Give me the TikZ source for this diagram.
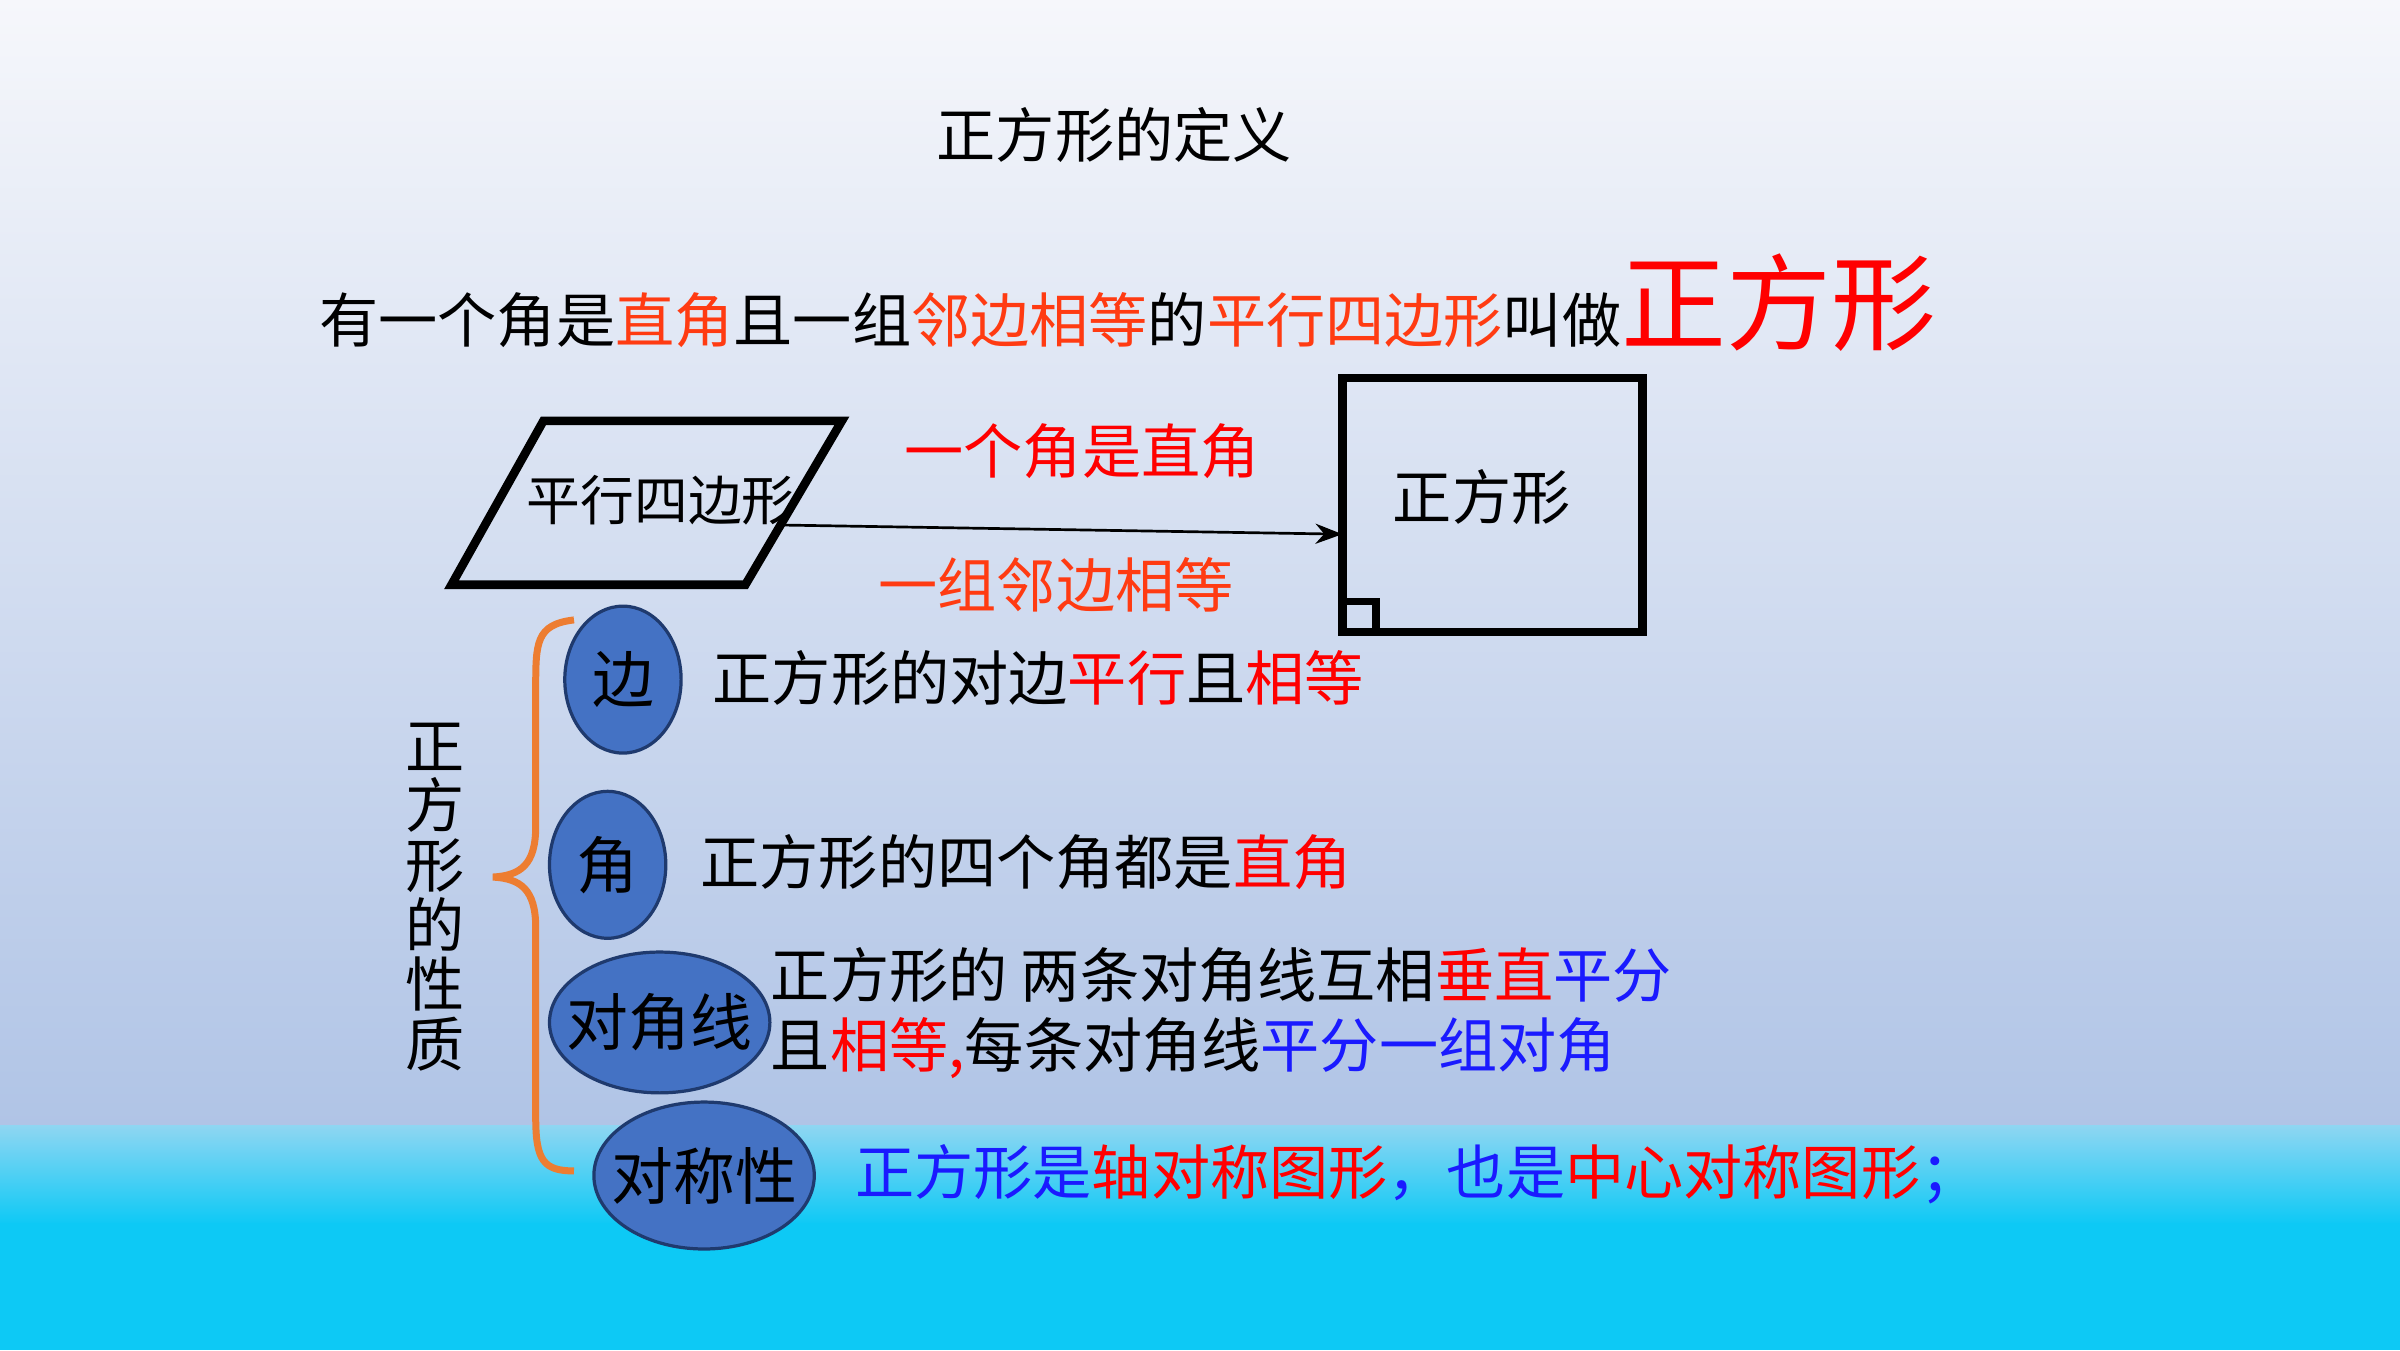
\documentclass[tikz,border=0pt]{standalone}
\usepackage{fontspec}
\setmainfont{Noto Sans CJK SC}
\usetikzlibrary{shapes.geometric,arrows.meta}
\definecolor{rd}{HTML}{FF0000}
\definecolor{orr}{HTML}{FF3B12}
\definecolor{bl}{HTML}{1A1AFF}
\definecolor{ellf}{HTML}{4472C4}
\definecolor{ellb}{HTML}{1F3A6E}
\definecolor{brc}{HTML}{ED7D31}
\definecolor{bgtop}{HTML}{F6F7FB}
\definecolor{bgmid}{HTML}{B0C4E6}
\definecolor{cyt}{HTML}{8FD6F2}
\definecolor{cyb}{HTML}{0DC9F5}
\begin{document}
\begin{tikzpicture}[x=0.1mm,y=-0.1mm,
  txt/.style={inner sep=0pt,font=\fontsize{11pt}{12pt}\selectfont},
  ellshape/.style={fill=ellf,draw=ellb,line width=0.6pt},
  ell/.style={inner sep=0pt,font=\fontsize{11.5pt}{12pt}\selectfont}]
\useasboundingbox (0,0) rectangle (1568,882);
\shade[top color=bgtop,bottom color=bgmid] (0,0) rectangle (1568,736);
\shade[top color=cyt,bottom color=cyb] (0,735) rectangle (1568,800);
\fill[cyb] (0,799) rectangle (1568,882);
\node[txt] (title) at (728,88) {正方形的定义};
\node[txt,anchor=west] (def) at (208,198) {有一个角是\textcolor{orr}{直角}且一组\textcolor{orr}{邻边相等}的\textcolor{orr}{平行四边形}叫做\textcolor{rd}{\fontsize{19.5pt}{20pt}\selectfont 正方形}};
\draw[line width=1.6pt] (295,382) -- (355,275) -- (550,275) -- (487,382) -- cycle;
\node[txt,font=\fontsize{10pt}{11pt}\selectfont] (pq) at (432,327) {平行四边形};
\draw[line width=1.6pt] (877,247) rectangle (1073,413);
\draw[line width=1.4pt] (877,393) -| (899,413);
\node[txt] (sq) at (968,325) {正方形};
\coordinate (a1) at (510,343);
\coordinate (a2) at (877,349);
\draw[-{Stealth[length=5pt]},line width=0.5pt] (a1) -- (a2);
\node[txt,text=rd] (l1) at (707,295) {一个角是直角};
\node[txt,text=orr] (l2) at (690,382) {一组邻边相等};
\draw[brc,line width=1.3pt] (375,405) .. controls (350,408) and (350,420) .. (350,450) -- (350,540) .. controls (350,565) and (340,572) .. (322,573) .. controls (340,574) and (350,581) .. (350,606) -- (350,730) .. controls (350,758) and (355,765) .. (375,765);
\node[txt,align=center,font=\fontsize{11pt}{11.1pt}\selectfont] (vt) at (284,586) {正\\方\\形\\的\\性\\质};
\draw[ellshape] (407,444) ellipse [x radius=38, y radius=48];
\draw[ellshape] (397,565) ellipse [x radius=38, y radius=48];
\draw[ellshape] (431,668) ellipse [x radius=72, y radius=46];
\draw[ellshape] (460,768) ellipse [x radius=72, y radius=48];
\node[ell] (e1) at (407,444) {边};
\node[ell] (e2) at (397,565) {角};
\node[ell] (e3) at (431,668) {对角线};
\node[ell] (e4) at (460,768) {对称性};
\node[txt,anchor=west] (t1) at (465,443) {正方形的对边\textcolor{rd}{平行}且\textcolor{rd}{相等}};
\node[txt,anchor=west] (t2) at (457,563) {正方形的四个角都是\textcolor{rd}{直角}};
\node[txt,anchor=west] (t3) at (503,637) {正方形的 两条对角线互相\textcolor{rd}{垂直}\textcolor{bl}{平分}};
\node[txt,anchor=west] (t3b) at (503,685) {且\textcolor{rd}{相等,}每条对角线\textcolor{bl}{平分一组对角}};
\node[txt,anchor=west,text=bl] (t4) at (558,767) {正方形是\textcolor{rd}{轴对称图形}，也是\textcolor{rd}{中心对称图形}；};
\end{tikzpicture}
\end{document}
